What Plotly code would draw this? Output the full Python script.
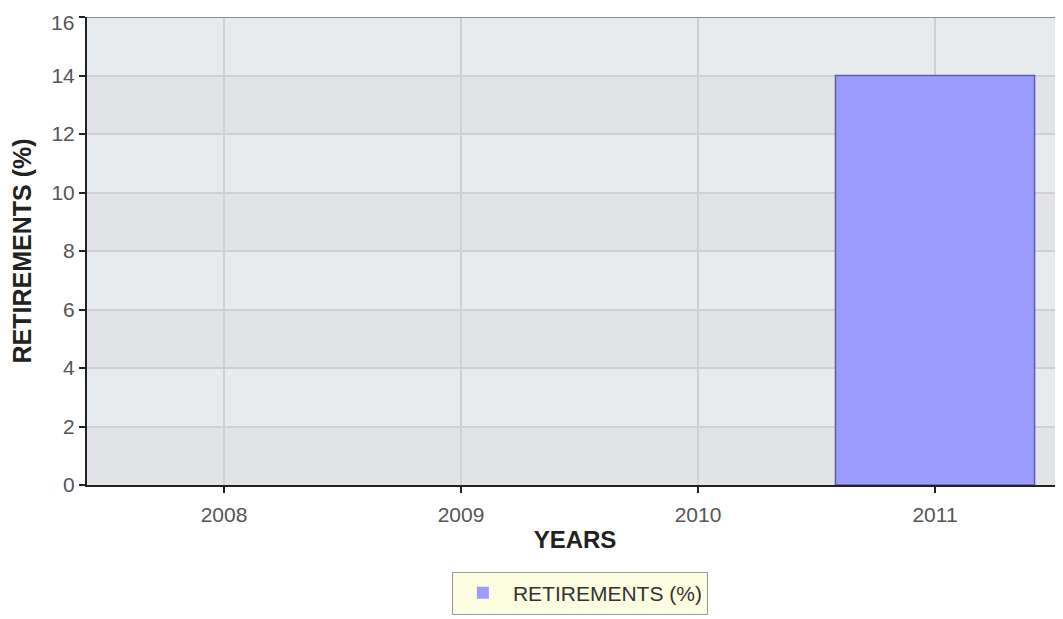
import plotly.graph_objects as go

years = [2008, 2009, 2010, 2011]
year_labels = ["2008", "2009", "2010", "2011"]
retirements = [0, 0, 0, 14]
series_name = "RETIREMENTS (%)"
y_ticks = [0, 2, 4, 6, 8, 10, 12, 14, 16]
y_tick_labels = [str(v) for v in y_ticks]

fig = go.Figure()
fig.add_trace(go.Bar(
    x=years, y=retirements, name=series_name, width=0.84,
    marker=dict(color="#9c9cff",
                line=dict(color="#5c5ca8", width=[1.5 if v else 0 for v in retirements])),
    showlegend=True,
))

shapes = []
for lo in range(0, 16, 4):
    shapes.append(dict(type="rect", xref="paper", yref="y", x0=0, x1=1, y0=lo, y1=lo + 2,
                       fillcolor="#e1e3e6", line=dict(width=0), layer="below"))
shapes.append(dict(type="line", xref="paper", yref="y", x0=0, x1=1, y0=16, y1=16,
                   line=dict(color="#8a8a8a", width=2), layer="above"))

# the top tick label sits slightly lower (as in the reference) so it is not clipped
axis_labels = y_tick_labels[:-1] + [""]
annotations = [dict(text=y_tick_labels[-1], xref="paper", yref="y", x=0, y=y_ticks[-1],
                    xanchor="right", yanchor="middle", xshift=-11, yshift=-5,
                    showarrow=False, font=dict(size=21, color="#555555"))]

fig.update_layout(
    width=1063, height=619,
    margin=dict(l=79, r=8, t=9, b=142),
    paper_bgcolor="white",
    plot_bgcolor="#e8ebee",
    font=dict(family="Liberation Sans, Arial, sans-serif", color="#555555"),
    shapes=shapes,
    annotations=annotations,
    showlegend=True,
    legend=dict(
        orientation="h", x=0.505, xanchor="center", y=-0.185, yanchor="top",
        bgcolor="#fdfde1", bordercolor="#9a9a9a", borderwidth=1,
        font=dict(size=21, color="#333333"), itemwidth=50,
    ),
    xaxis=dict(
        range=[2007.422, 2011.54],
        tickvals=years, ticktext=year_labels,
        ticks="outside", ticklen=6, tickwidth=2, tickcolor="#222222",
        tickfont=dict(size=21, color="#555555"), ticklabelstandoff=4,
        showgrid=True, gridcolor="#cfd0d4", gridwidth=1.5,
        showline=True, linecolor="#222222", linewidth=2,
        zeroline=False, automargin=False,
        title=dict(text="<b>YEARS</b>", font=dict(size=24, color="#222222"), standoff=6),
    ),
    yaxis=dict(
        range=[0, 16], tickvals=y_ticks, ticktext=axis_labels,
        ticks="outside", ticklen=6, tickwidth=2, tickcolor="#222222",
        tickfont=dict(size=21, color="#555555"),
        showgrid=True, gridcolor="#d0d0d4", gridwidth=2,
        showline=True, linecolor="#222222", linewidth=2,
        zeroline=False, automargin=False,
        title=dict(text="<b>RETIREMENTS (%)</b>", font=dict(size=25, color="#222222"), standoff=15),
    ),
)

fig.write_html("out.html")
